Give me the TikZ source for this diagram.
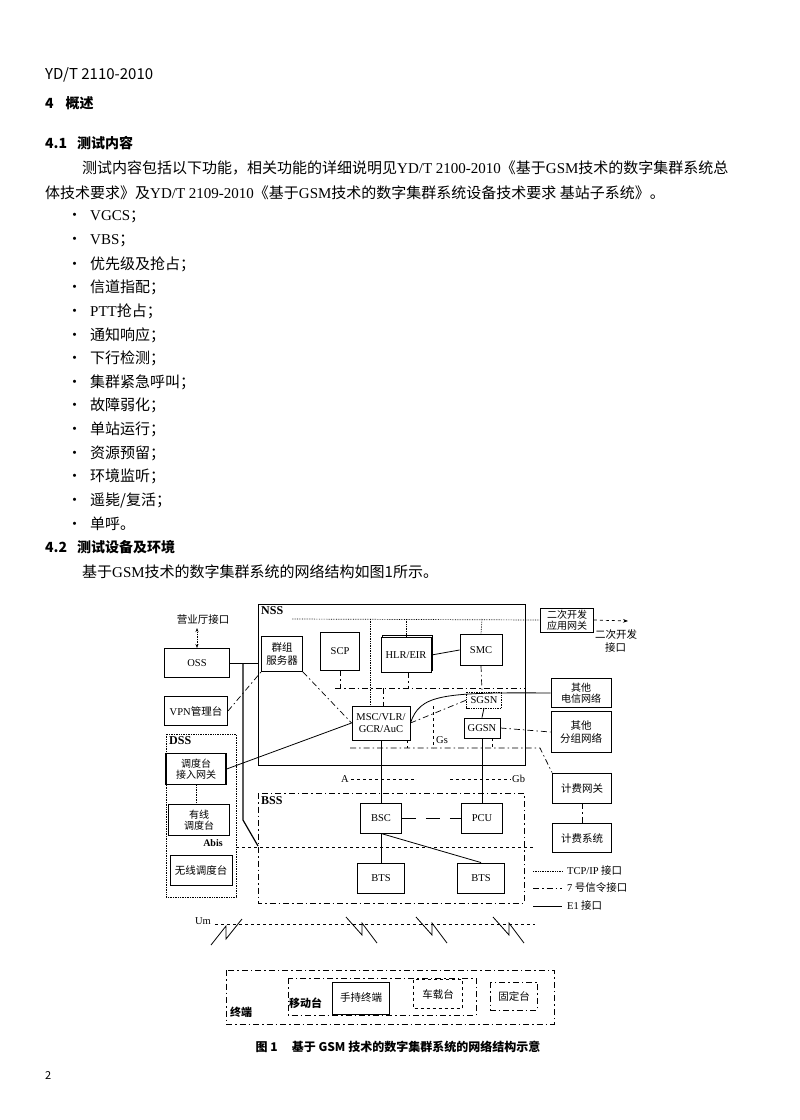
\documentclass[tikz,border=0pt]{standalone}
\usepackage{fontspec}
\setmainfont{Noto Sans CJK SC}
\newfontfamily\lat{Liberation Serif}
\usetikzlibrary{arrows.meta}
\tikzset{
  bx/.style={draw,line width=0.9pt,inner sep=1pt,align=center,font=\fontsize{10.5}{12.5}\selectfont},
  lt/.style={font=\lat\fontsize{10.5}{12}\selectfont},
  tcp/.style={densely dotted,line width=0.7pt},
  ss7/.style={dash pattern=on 6pt off 3pt on 1.5pt off 3pt,line width=0.7pt},
  eone/.style={line width=0.8pt},
  dsh/.style={dashed,line width=0.7pt},
  body/.style={anchor=west,font=\fontsize{15}{17}\selectfont,inner sep=0},
  lbl/.style={font=\fontsize{10.5}{12}\selectfont,inner sep=1pt},
}
\begin{document}
\begin{tikzpicture}[x=1pt,y=-1pt]
\useasboundingbox (0,0) rectangle (800,1120);
\fill[white] (0,0) rectangle (800,1120);
% text
\node[body,font=\fontsize{15}{17}\selectfont] (h0) at (45,75) {YD/T 2110-2010};
\node[body,font=\fontsize{14}{17}\bfseries] (h1) at (45,103) {4\hspace{12pt}概述};
\node[body,font=\fontsize{14}{17}\bfseries] (h2) at (45,143) {4.1\hspace{10pt}测试内容};
\node[body] (p1) at (82,168) {测试内容包括以下功能，相关功能的详细说明见{\lat YD/T 2100-2010}《基于{\lat GSM}技术的数字集群系统总};
\node[body] (p2) at (45,193) {体技术要求》及{\lat YD/T 2109-2010}《基于{\lat GSM}技术的数字集群系统设备技术要求\ 基站子系统》。};
\foreach \t [count=\i] in {{{\lat VGCS}；},{{\lat VBS}；},{优先级及抢占；},{信道指配；},{{\lat PTT}抢占；},{通知响应；},{下行检测；},{集群紧急呼叫；},{故障弱化；},{单站运行；},{资源预留；},{环境监听；},{遥毙/复活；},{单呼。}}{
  \node[body] (b\i) at (67,{217+23.6*(\i-1)}) {•\hspace{8pt}\t};
}
\node[body,font=\fontsize{14}{17}\bfseries] (h3) at (45,547) {4.2\hspace{10pt}测试设备及环境};
\node[body] (p3) at (82,572) {基于{\lat GSM}技术的数字集群系统的网络结构如图1所示。};
% NSS
\draw[line width=1pt] (258,604) rectangle (525,765);
\node[anchor=north west,font=\lat\bfseries\fontsize{12}{13}\selectfont,inner sep=0] (nss) at (261,606) {NSS};
\node[bx,minimum width=41pt,minimum height=35pt] (grp) at (282,654) {群组\\服务器};
\node[bx,minimum width=39pt,minimum height=38pt,lt] (scp) at (340,651) {SCP};
\draw[line width=0.8pt] (382,635) rectangle (432,670);
\node[bx,minimum width=50pt,minimum height=35pt,lt,fill=white,inner sep=0] (hlr) at (406,655) {HLR/EIR};
\node[bx,minimum width=42pt,minimum height=31pt,lt] (smc) at (481,650) {SMC};
\node[bx,minimum width=58pt,minimum height=34pt,lt] (msc) at (381,723) {MSC/VLR/\\GCR/AuC};
\node[bx,draw=none,minimum width=34pt,minimum height=15pt,lt,inner sep=0] (sgsn) at (484,700) {SGSN};
\draw[tcp] (sgsn.north west) rectangle (sgsn.south east);
\node[bx,minimum width=36pt,minimum height=20pt,lt,inner sep=0] (ggsn) at (482,728) {GGSN};
% right boxes
\node[bx,minimum width=53pt,minimum height=24pt,inner sep=0,font=\fontsize{10}{11}\selectfont] (app) at (567,620) {二次开发\\应用网关};
\node[bx,minimum width=60pt,minimum height=29pt,inner sep=0,font=\fontsize{10}{11.5}\selectfont] (tel) at (581,693) {其他\\电信网络};
\node[bx,minimum width=60pt,minimum height=41pt] (pkt) at (581,732) {其他\\分组网络};
\node[bx,minimum width=59pt,minimum height=30pt] (cgw) at (582,788) {计费网关};
\node[bx,minimum width=59pt,minimum height=29pt] (bill) at (582,838) {计费系统};
% NSS internal lines
\draw[tcp] (292,619) -- (app.west);
\draw[tcp] (370,619) -- (370,706);
\draw[tcp] (406,619) -- (hlr.north);
\draw[tcp] (482,619) -- (smc.north);
\draw[ss7] (335,688) -- (525,688);
\draw[ss7] (scp.south) -- (340,688);
\draw[ss7] (408,672) -- (408,688);
\draw[ss7] (smc.south) -- (482,692);
\draw[ss7] (383,688) -- (383,706);
\draw[eone] (hlr.east) -- (smc.west);
\draw[ss7] (grp.south east) -- (msc.west);
\draw[ss7] (msc.east) -- (sgsn.west);
\draw[eone] (msc.east) .. controls (420,695) and (440,692) .. (tel.west);
\draw[dsh] (433,706) -- (433,748);
\node[anchor=west,lt,inner sep=0] (gs) at (436,740) {Gs};
\draw[ss7] (350,748) -- (540,748) -- (cgw.north west);
\draw[dsh] (407,740) -- (407,748);
\draw[dsh] (492,738) -- (492,748);
\draw[eone] (sgsn.south) -- (ggsn.north);
\draw[ss7] (ggsn.east) -- (pkt.west);
\draw[ss7] (cgw.south) -- (bill.north);
\draw[dsh,-{Stealth[length=5pt]}] (app.east) -- (628,621);
\node[lbl,anchor=west] (ifc1) at (594,634) {二次开发};
\node[lbl,anchor=west] (ifc2) at (604,648) {接口};
% A / Gb
\node[lbl,lt] (al) at (345,779) {A};
\draw[dsh] (351,779) -- (415,779);
\draw[dsh] (450,779) -- (511,779);
\node[lbl,anchor=west,lt] (gbl) at (511,779) {Gb};
% left side
\node[lbl] (yy) at (203,620) {营业厅接口};
\node[bx,minimum width=65pt,minimum height=29pt,lt] (oss) at (197,663) {OSS};
\coordinate (yyb) at (197,628);
\draw[tcp,{Stealth[length=4pt]}-{Stealth[length=4pt]}] (yyb) -- (oss.north);
\node[bx,minimum width=63pt,minimum height=29pt,inner sep=0] (vpn) at (196,711) {{\lat VPN}管理台};
\draw[eone] (oss.east) -- (258,663);
\draw[eone,line width=1.2pt] (243,663) -- (243,820) -- (258,846);
\draw[ss7] (vpn.east) -- (grp.south west);
\draw[tcp] (166,734) rectangle (236,897);
\node[anchor=north west,font=\lat\bfseries\fontsize{12}{13}\selectfont,inner sep=0] (dss) at (169,736) {DSS};
\node[bx,line width=1.3pt,minimum width=60pt,minimum height=31pt,inner sep=0,font=\fontsize{10}{11.5}\selectfont] (dgw) at (196,769) {调度台\\接入网关};
\node[bx,line width=1.3pt,minimum width=61pt,minimum height=31pt,inner sep=0,font=\fontsize{10}{11.5}\selectfont] (wire) at (199,820) {有线\\调度台};
\node[bx,minimum width=62pt,minimum height=30pt,inner sep=0] (wl) at (201,870) {无线调度台};
\draw[eone] (dgw.east) -- (msc.west);
\draw[tcp] (dgw.south) -- (wire.north -| dgw.south);
\node[lbl,font=\lat\bfseries\fontsize{10}{11}\selectfont] (abis) at (213,843) {Abis};
\draw[dsh] (236,847) -- (535,847);
% BSS
\draw[ss7] (258,793) rectangle (524,903);
\node[anchor=north west,font=\lat\bfseries\fontsize{12}{13}\selectfont,inner sep=0] (bss) at (261,796) {BSS};
\node[bx,minimum width=41pt,minimum height=30pt,lt] (bsc) at (381,818) {BSC};
\node[bx,minimum width=41pt,minimum height=30pt,lt] (pcu) at (482,818) {PCU};
\node[bx,minimum width=47pt,minimum height=30pt,lt] (bts1) at (381,878) {BTS};
\node[bx,minimum width=47pt,minimum height=30pt,lt] (bts2) at (481,878) {BTS};
\draw[eone] (msc.south) -- (bsc.north);
\draw[eone] (ggsn.south) -- (pcu.north);
\draw[eone,dash pattern=on 14pt off 10pt] (bsc.east) -- (pcu.west);
\draw[eone] (bsc.south) -- (bts1.north);
\draw[eone] (bsc.south) -- (bts2.north);
% Um
\node[lbl,lt] (um) at (203,921) {Um};
\draw[dsh] (215,924) -- (535,924);
\draw[eone] (211,945) -- (226,926) -- (226,939) -- (242,919);
\foreach \x in {346,416,493}{
  \draw[eone] (\x,917) -- (\x+16,935) -- (\x+16,923) -- (\x+31,943);
}
% legend
\draw[tcp] (533,871) -- (562,871);
\node[lbl,anchor=west] (lg1) at (566,871) {{\lat TCP/IP} 接口};
\draw[ss7] (533,888) -- (562,888);
\node[lbl,anchor=west] (lg2) at (566,888) {{\lat 7} 号信令接口};
\draw[eone] (533,906) -- (562,906);
\node[lbl,anchor=west] (lg3) at (566,906) {{\lat E1} 接口};
% terminals
\draw[ss7] (226,970) rectangle (554,1024);
\node[lbl,font=\bfseries\fontsize{11}{12}\selectfont,anchor=west] (zd) at (229,1012) {终端};
\draw[ss7] (288,978) rectangle (476,1015);
\node[lbl,font=\bfseries\fontsize{11}{12}\selectfont,anchor=west] (yd) at (288,1003) {移动台};
\node[bx,minimum width=57pt,minimum height=32pt,inner sep=0] (hand) at (361,998) {手持终端};
\node[bx,draw=none,minimum width=48pt,minimum height=28pt,inner sep=0] (car) at (438,994) {车载台};
\draw[dsh] (car.north west) rectangle (car.south east);
\node[bx,draw=none,minimum width=46pt,minimum height=27pt,inner sep=0] (fix) at (514,996) {固定台};
\draw[ss7] (fix.north west) rectangle (fix.south east);
\node[font=\bfseries\fontsize{12}{13}\selectfont] (cap) at (398,1047) {图 1\hspace{14pt}基于 GSM 技术的数字集群系统的网络结构示意};
\node[body,font=\fontsize{11}{12}\selectfont] (pg) at (45,1075) {2};
\end{tikzpicture}
\end{document}
